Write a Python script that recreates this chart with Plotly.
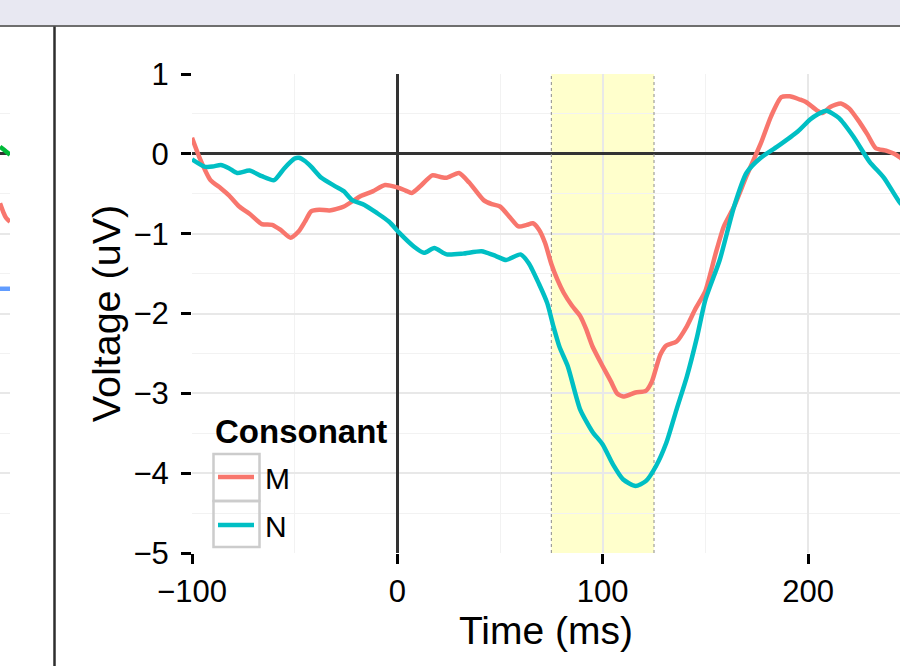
import plotly.graph_objects as go

# ---------------- data ----------------
time_m = [-100, -96, -91, -86, -82, -77, -72, -66, -61, -57, -52, -48, -45, -42, -38, -33, -26,
          -18, -12, -6, 0, 4, 7, 11, 17, 21, 24, 30, 35, 42, 46, 50, 55, 59, 63, 66, 69, 72, 75,
          78, 81, 85, 89, 92, 95, 100, 104, 107, 110, 116, 121, 124, 128, 131, 136, 141, 145,
          150, 155, 159, 164, 170, 177, 182, 187, 191, 196, 199, 204, 207, 211, 216, 220, 225,
          229, 233, 238, 242, 245, 248]
volt_m = [0.20, -0.07, -0.33, -0.43, -0.52, -0.66, -0.75, -0.88, -0.89, -0.95, -1.05, -0.97,
          -0.85, -0.72, -0.70, -0.71, -0.66, -0.53, -0.47, -0.39, -0.42, -0.46, -0.49, -0.41,
          -0.27, -0.29, -0.30, -0.24, -0.36, -0.58, -0.63, -0.66, -0.80, -0.91, -0.89, -0.87,
          -0.95, -1.12, -1.38, -1.58, -1.74, -1.90, -2.03, -2.20, -2.41, -2.66, -2.85, -3.00,
          -3.04, -2.99, -2.97, -2.85, -2.52, -2.40, -2.35, -2.16, -1.95, -1.72, -1.25, -0.91,
          -0.66, -0.28, 0.13, 0.47, 0.71, 0.72, 0.68, 0.65, 0.55, 0.51, 0.59, 0.63, 0.57, 0.40,
          0.24, 0.07, 0.04, 0.00, -0.05, -0.12]

time_n = [-100, -94, -90, -86, -82, -78, -72, -66, -60, -55, -50, -48, -45, -42, -37, -30, -26,
          -22, -16, -10, -4, 1, 8, 13, 18, 24, 32, 41, 48, 53, 60, 64, 69, 73, 76, 79, 83, 89,
          95, 100, 105, 110, 116, 121, 126, 131, 136, 141, 146, 150, 157, 164, 170, 177, 185,
          195, 201, 205, 209, 215, 222, 230, 237, 245, 248]
volt_n = [-0.07, -0.16, -0.16, -0.14, -0.18, -0.24, -0.21, -0.28, -0.33, -0.18, -0.06, -0.05,
          -0.09, -0.16, -0.30, -0.41, -0.47, -0.58, -0.64, -0.74, -0.85, -0.99, -1.16, -1.24,
          -1.18, -1.26, -1.25, -1.22, -1.28, -1.33, -1.26, -1.37, -1.63, -1.87, -2.16, -2.42,
          -2.66, -3.20, -3.48, -3.64, -3.89, -4.08, -4.16, -4.10, -3.91, -3.62, -3.20, -2.79,
          -2.29, -1.83, -1.33, -0.66, -0.24, -0.05, 0.09, 0.28, 0.43, 0.50, 0.54, 0.45, 0.22,
          -0.10, -0.30, -0.62, -0.68]

consonants = ["M", "N"]
legend_title = "Consonant"
window_ms = [75, 125]

# partially visible neighbouring panel (left edge of screenshot)
left_x = [0, 3, 6, 10]
left_green = [0.09, 0.06, 0.03, -0.01]
left_red = [-0.62, -0.72, -0.80, -0.85]
left_blue = [-1.69, -1.69, -1.69, -1.69]

x_ticks = [-100, 0, 100, 200]
y_ticks = [-5, -4, -3, -2, -1, 0, 1]

# ---------------- styles ----------------
W, H = 900, 666
FONT = "Liberation Sans, Arial, Helvetica, sans-serif"
RED, CYAN, GREEN, BLUE = "#F8766D", "#00BFC4", "#00BA38", "#619CFF"
GRID, MINOR = "#e8e8e8", "#f2f2f2"

def px_x(p):
    return p / W

def px_y(p):
    return (H - p) / H

fig = go.Figure()

# window edges (dotted), drawn beneath the curves
for wv in window_ms:
    fig.add_trace(go.Scatter(x=[wv, wv], y=[-5, 1], mode="lines", showlegend=False,
                             hoverinfo="skip", line=dict(color="#8c8c8c", width=1, dash="dot"),
                             xaxis="x", yaxis="y"))

fig.add_trace(go.Scatter(x=time_m, y=volt_m, mode="lines", name="\u2009" + consonants[0],
                         line=dict(color=RED, width=4.5, shape="spline", smoothing=0.6),
                         legendgroup="m", xaxis="x", yaxis="y"))
fig.add_trace(go.Scatter(x=time_n, y=volt_n, mode="lines", name="\u2009" + consonants[1],
                         line=dict(color=CYAN, width=4.5, shape="spline", smoothing=0.6),
                         legendgroup="n", xaxis="x", yaxis="y"))

for vals, col in [(left_green, GREEN), (left_red, RED), (left_blue, BLUE)]:
    fig.add_trace(go.Scatter(x=left_x, y=vals, mode="lines", showlegend=False,
                             line=dict(color=col, width=4.5, shape="spline"),
                             xaxis="x2", yaxis="y2", hoverinfo="skip"))

shapes = []
# highlighted window
shapes.append(dict(type="rect", xref="x", yref="y domain", x0=window_ms[0], x1=window_ms[1],
                   y0=0, y1=1, fillcolor="rgba(255,255,0,0.2)", line=dict(width=0), layer="below"))
# app chrome: top bar + separator
shapes.append(dict(type="rect", xref="paper", yref="paper", x0=0, x1=1, y0=px_y(25.5), y1=1,
                   fillcolor="#e8e8f2", line=dict(width=0), layer="above"))
shapes.append(dict(type="line", xref="paper", yref="paper", x0=0, x1=1, y0=px_y(26), y1=px_y(26),
                   line=dict(color="#6e6e6e", width=2), layer="above"))
shapes.append(dict(type="line", xref="paper", yref="paper", x0=px_x(54.5), x1=px_x(54.5),
                   y0=0, y1=px_y(26.5), line=dict(color="#2e2e2e", width=2.5), layer="above"))
# legend key boxes
for top, bot in [(454, 501), (501, 547)]:
    shapes.append(dict(type="rect", xref="paper", yref="paper", x0=px_x(213.5), x1=px_x(259.5),
                       y0=px_y(bot), y1=px_y(top), line=dict(color="#cccccc", width=2.5),
                       fillcolor="rgba(0,0,0,0)", layer="above"))

axis_common = dict(
    showline=False, ticks="outside", ticklen=10, tickwidth=2.5, tickcolor="black",
    tickfont=dict(family=FONT, size=31, color="black"), automargin=False,
    gridcolor=GRID, gridwidth=1.8, zeroline=True, zerolinecolor="#333333", zerolinewidth=2.5,
)

fig.update_layout(
    template="none",
    width=W, height=H, margin=dict(l=0, r=0, t=0, b=0, pad=0, autoexpand=False),
    paper_bgcolor="white", plot_bgcolor="white",
    font=dict(family=FONT, color="black"),
    shapes=shapes,
    annotations=[dict(text="<b>" + legend_title + "</b>", xref="paper", yref="paper",
                      x=px_x(213), y=px_y(431), xanchor="left", yanchor="middle",
                      showarrow=False, font=dict(size=33, family=FONT, color="black"))],
    xaxis=dict(domain=[px_x(192), 1], range=[-100, 244.8], tickvals=x_ticks,
               minor=dict(dtick=50, tick0=0, showgrid=True, gridcolor=MINOR, gridwidth=1.4, ticks=""),
               title=dict(text="Time (ms)", font=dict(size=39, family=FONT), standoff=0),
               ticklabelstandoff=1, anchor="y", **axis_common),
    yaxis=dict(domain=[px_y(553), px_y(74)], range=[-5, 1], tickvals=y_ticks,
               minor=dict(dtick=0.5, tick0=0, showgrid=True, gridcolor=MINOR, gridwidth=1.4, ticks=""),
               title=dict(text="Voltage (uV)", font=dict(size=39.5, family=FONT), standoff=0),
               ticklabelstandoff=6, anchor="x", **axis_common),
    xaxis2=dict(domain=[0, px_x(10)], range=[0, 10], tickvals=[9], showticklabels=False,
                ticks="", showline=False, showgrid=True, gridcolor=GRID, gridwidth=1.6,
                zeroline=False, anchor="y2", automargin=False),
    yaxis2=dict(domain=[px_y(544), px_y(74)], range=[-4.887, 1], dtick=1, showticklabels=False,
                ticks="", showline=False, showgrid=True, gridcolor=GRID, gridwidth=1.6,
                minor=dict(dtick=0.5, tick0=0, showgrid=True, gridcolor=MINOR, gridwidth=1.4),
                zeroline=True, zerolinecolor="#333333", zerolinewidth=2.5, anchor="x2",
                automargin=False),
    legend=dict(x=px_x(213), y=px_y(551), xanchor="left", yanchor="bottom",
                bgcolor="rgba(0,0,0,0)", borderwidth=0,
                font=dict(size=30, family=FONT), tracegroupgap=6, itemwidth=36),
    showlegend=True,
)

fig.write_html("out.html")
